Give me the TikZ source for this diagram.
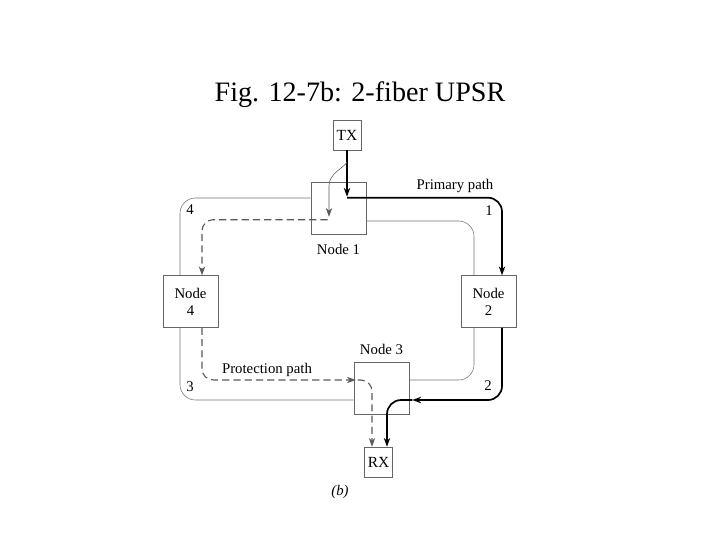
\documentclass[tikz,border=0pt]{standalone}
\usepackage{fontspec}
\setmainfont{Liberation Serif}
\usepackage{tikz}
\usetikzlibrary{arrows.meta, positioning, calc}

\begin{document}
\begin{tikzpicture}[x=0.025cm, y=-0.025cm,
  box/.style={rectangle, draw=black!60, minimum width=1.375cm, minimum height=1.3cm, align=center, inner sep=1pt, font=\fontsize{10.5}{12}\selectfont},
  term/.style={rectangle, draw=black!60, minimum width=0.7cm, minimum height=0.75cm, inner sep=1pt, font=\fontsize{11}{12}\selectfont},
  lbl/.style={font=\fontsize{10.5}{12}\selectfont, inner sep=1pt},
  fiber/.style={draw=black!55, rounded corners=11pt},
  primary/.style={very thick, rounded corners=10pt},
  protect/.style={draw=black!65, thick, dash pattern=on 5pt off 3pt, rounded corners=8pt},
  split/.style={draw=black!65},
  tip/.style={-{Stealth[length=2.2mm, width=1.6mm]}}
]
\useasboundingbox (0,0) rectangle (720,540);
\node[font=\fontsize{20}{24}\selectfont] (title) at (360,95) {Fig. 12-7b: 2-fiber UPSR};
\node[term] (tx) at (347,135) {TX};
\node[box] (n1) at (338.5,208) {};
\node[lbl, below=6pt of n1] (n1lab) {Node 1};
\node[box] (n4) at (190.5,301.5) {Node\\4};
\node[box] (n2) at (488.5,301.5) {Node\\2};
\node[box] (n3) at (381.5,388.5) {};
\node[lbl, above=4pt of n3] (n3lab) {Node 3};
\node[term] (rx) at (378.5,462) {RX};
\node[lbl] (sub) at (340,492) {\textit{(b)}};
\node[lbl] (l4) at (190,210) {4};
\node[lbl] (l1) at (489,211) {1};
\node[lbl] (l2) at (488,386) {2};
\node[lbl] (l3) at (190,387) {3};
\node[lbl] (prim) at (455,186) {Primary path};
\node[lbl] (prot) at (267,370) {Protection path};
% fiber ring
\draw[fiber] ($(n1.west)+(0,-10)$) -| ($(n4.north)+(-10.5,0)$);
\draw[fiber] ($(n1.east)+(0,13)$) -| ($(n2.north)+(-14.5,0)$);
\draw[fiber] ($(n4.south)+(-10.5,0)$) |- ($(n3.west)+(0,11.5)$);
\draw[fiber] ($(n2.south)+(-14.5,0)$) |- ($(n3.east)+(0,-8.5)$);
% primary path
\coordinate (n1hi) at ($(n1.north)+(0,15)$);
\draw[primary, tip] (tx.south) -- (tx.south |- n1hi);
\draw[primary, tip] ($(tx.south |- n1hi)+(0,1)$) -| ($(n2.north)+(13.5,0)$);
\draw[primary, tip] ($(n2.south)+(13.5,0)$) |- ($(n3.east)+(3,11.5)$);
\draw[primary, tip] ($(n3.east)+(3,11.5)$) -| ($(rx.north)+(8.5,0)$);
% protection path
\draw[split, tip] ($(tx.south)+(0,12)$) .. controls +(-4,6) and +(0,-12) .. ($(n1.north)+(-9.5,4)$) -- ($(n1.north)+(-9.5,35)$);
\draw[protect, tip] ($(n1.north)+(-11,38)$) -| ($(n4.north)+(11.5,0)$);
\draw[protect, tip] ($(n4.south)+(11.5,0)$) |- ($(n3.west)+(2,-8.5)$);
\draw[protect, tip] ($(n3.west)+(4,-8.5)$) -| ($(rx.north)+(-6.5,0)$);
\end{tikzpicture}
\end{document}
